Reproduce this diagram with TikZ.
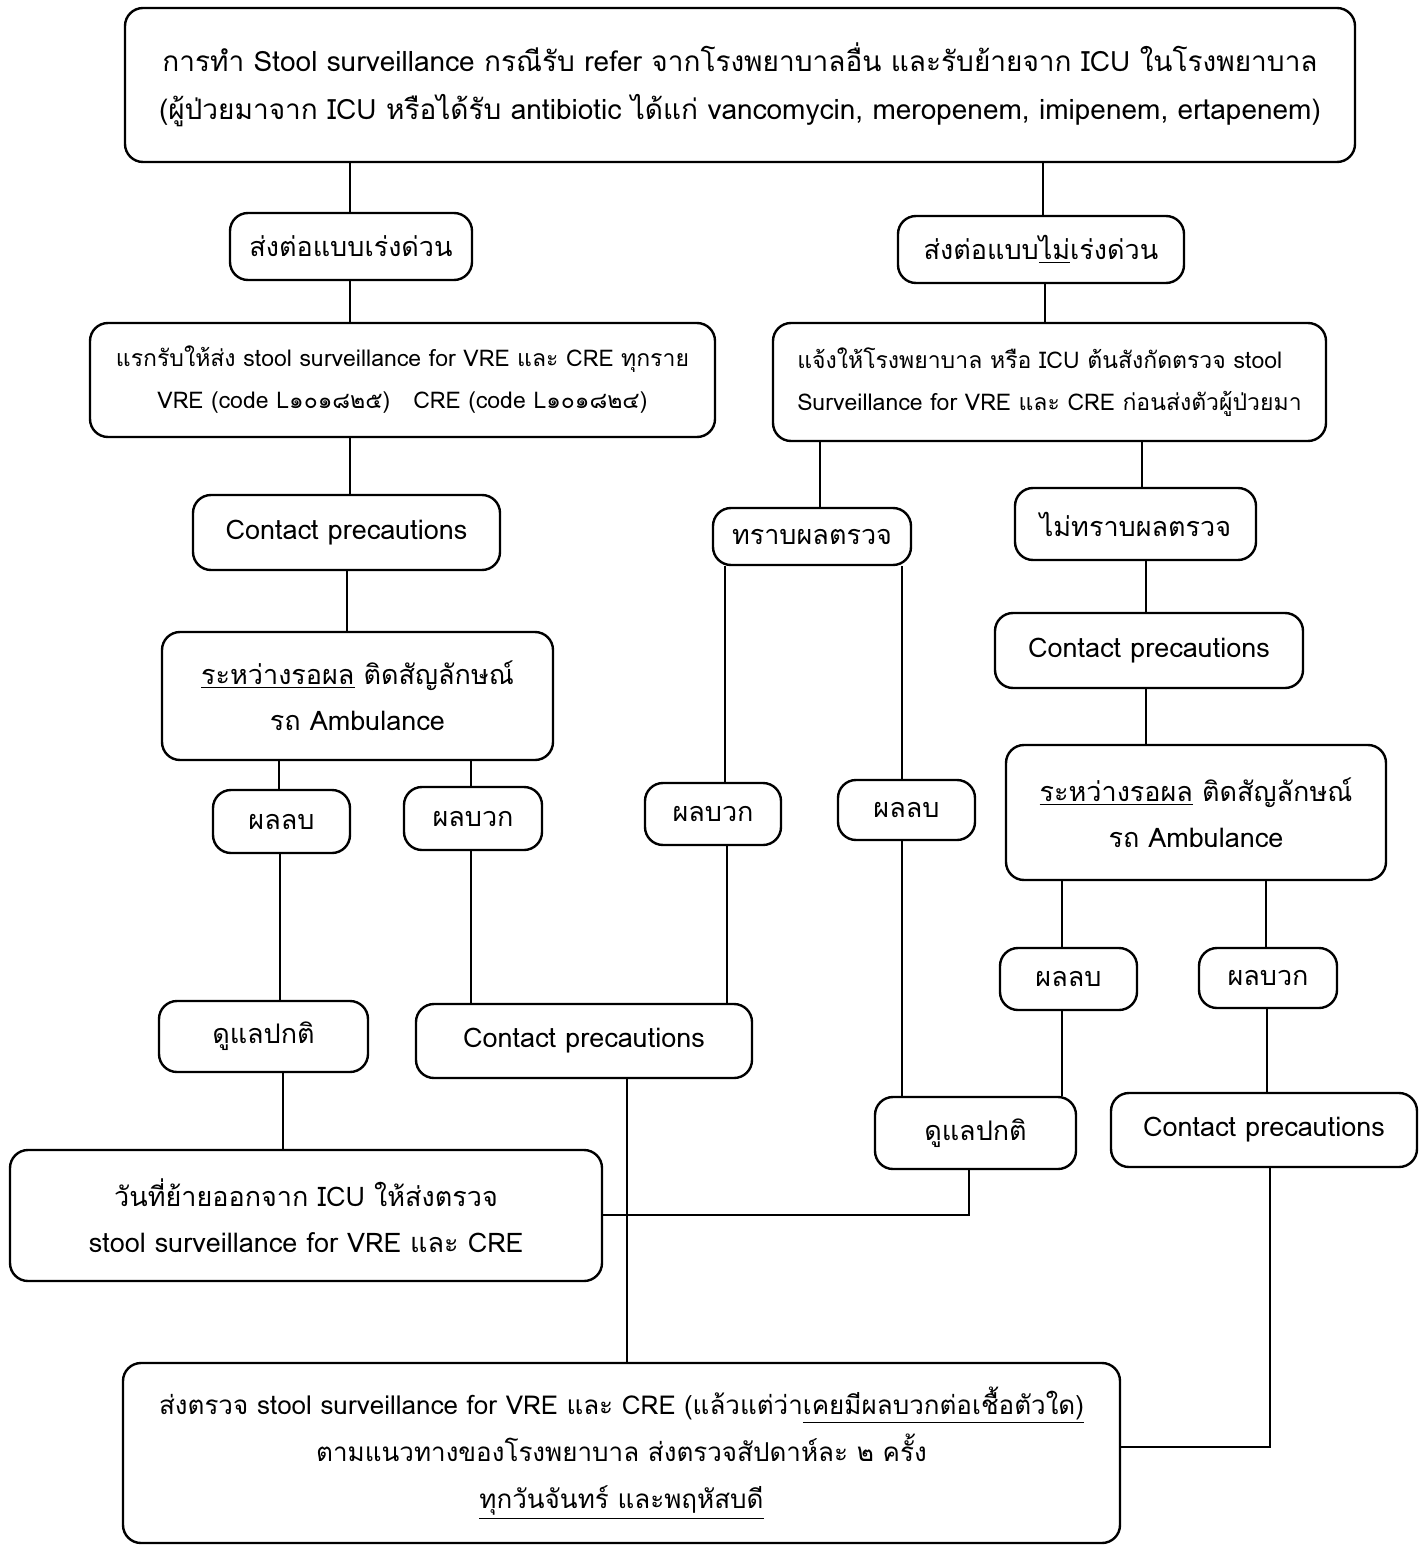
\documentclass[tikz,border=0pt]{standalone}
\usepackage{fontspec}
\setmainfont[Script=Thai]{Loma}
\begin{document}
\begin{tikzpicture}[x=0.5pt,y=-0.5pt,
  box/.style={draw, line width=1.2pt, rounded corners=9pt, inner sep=0pt, align=center, font=\fontsize{13.5}{23}\selectfont},
  small/.style={font=\fontsize{11.5}{21}\selectfont},
  wide/.style={font=\fontsize{14}{24}\selectfont},
  mid/.style={font=\fontsize{13}{23.5}\selectfont},
  conn/.style={line width=1pt}]
\useasboundingbox[fill=white] (0,0) rectangle (1427,1545);
\newcommand{\bx}[7][]{\node[box, #1, minimum width={(#5-#3)*0.5pt}, minimum height={(#6-#4)*0.5pt}] (#2) at ({(#3+#5)/2},{(#4+#6)/2}) {#7};}
\bx[wide]{top}{125}{8}{1355}{162}{การทำ Stool surveillance กรณีรับ refer จากโรงพยาบาลอื่น และรับย้ายจาก ICU ในโรงพยาบาล\\(ผู้ป่วยมาจาก ICU หรือได้รับ antibiotic ได้แก่ vancomycin, meropenem, imipenem, ertapenem)}
\bx{urg}{230}{213}{472}{280}{ส่งต่อแบบเร่งด่วน}
\bx{nurg}{898}{216}{1184}{283}{ส่งต่อแบบ\underline{ไม่}เร่งด่วน}
\bx[small]{first}{90}{323}{715}{437}{แรกรับให้ส่ง stool surveillance for VRE และ CRE ทุกราย\\VRE (code L๑๐๑๘๒๕)\quad CRE (code L๑๐๑๘๒๔)}
\bx[small,align=left]{notify}{773}{323}{1326}{441}{แจ้งให้โรงพยาบาล หรือ ICU ต้นสังกัดตรวจ stool\\Surveillance for VRE และ CRE ก่อนส่งตัวผู้ป่วยมา}
\bx{cpL}{193}{495}{500}{570}{Contact precautions}
\bx{known}{713}{508}{911}{565}{ทราบผลตรวจ}
\bx{unknown}{1015}{488}{1256}{560}{ไม่ทราบผลตรวจ}
\bx{cpR}{995}{613}{1303}{688}{Contact precautions}
\bx{waitL}{162}{632}{553}{760}{\underline{ระหว่างรอผล} ติดสัญลักษณ์\\รถ Ambulance}
\bx{waitR}{1006}{745}{1386}{880}{\underline{ระหว่างรอผล} ติดสัญลักษณ์\\รถ Ambulance}
\bx{negL}{213}{790}{350}{853}{ผลลบ}
\bx{posL}{404}{787}{542}{850}{ผลบวก}
\bx{posM}{645}{783}{781}{845}{ผลบวก}
\bx{negM}{838}{780}{975}{840}{ผลลบ}
\bx{careL}{159}{1001}{368}{1072}{ดูแลปกติ}
\bx{cpM}{416}{1004}{752}{1078}{Contact precautions}
\bx{negR}{1000}{948}{1137}{1010}{ผลลบ}
\bx{posR}{1199}{948}{1337}{1008}{ผลบวก}
\bx{careR}{875}{1097}{1076}{1169}{ดูแลปกติ}
\bx{cpRR}{1111}{1093}{1417}{1167}{Contact precautions}
\bx{icu}{10}{1150}{602}{1281}{วันที่ย้ายออกจาก ICU ให้ส่งตรวจ\\stool surveillance for VRE และ CRE}
\bx[mid]{bottom}{123}{1363}{1120}{1543}{ส่งตรวจ stool surveillance for VRE และ CRE (แล้วแต่ว่า\underline{เคยมีผลบวกต่อเชื้อตัวใด)}\\ตามแนวทางของโรงพยาบาล ส่งตรวจสัปดาห์ละ ๒ ครั้ง\\\underline{ทุกวันจันทร์ และพฤหัสบดี}}
\coordinate (jR) at (969,1215);
\coordinate (jB) at (1270,1447);
\begin{scope}[conn]
\draw (top.south -| 350,0) -- (urg.north -| 350,0);
\draw (top.south -| 1043,0) -- (nurg.north -| 1043,0);
\draw (urg.south -| 350,0) -- (first.north -| 350,0);
\draw (nurg.south -| 1045,0) -- (notify.north -| 1045,0);
\draw (first.south -| 350,0) -- (cpL.north -| 350,0);
\draw (cpL.south -| 347,0) -- (waitL.north -| 347,0);
\draw (notify.south -| 820,0) -- (known.north -| 820,0);
\draw (notify.south -| 1142,0) -- (unknown.north -| 1142,0);
\draw (unknown.south -| 1146,0) -- (cpR.north -| 1146,0);
\draw (cpR.south -| 1146,0) -- (waitR.north -| 1146,0);
\draw (waitL.south -| 279,0) -- (negL.north -| 279,0);
\draw (waitL.south -| 471,0) -- (posL.north -| 471,0);
\draw (known.south -| 725,0) -- (posM.north -| 725,0);
\draw (known.south -| 902,0) -- (negM.north -| 902,0);
\draw (waitR.south -| 1062,0) -- (negR.north -| 1062,0);
\draw (waitR.south -| 1266,0) -- (posR.north -| 1266,0);
\draw (negL.south -| 280,0) -- (careL.north -| 280,0);
\draw (posL.south -| 471,0) -- (cpM.north -| 471,0);
\draw (posM.south -| 727,0) -- (cpM.north -| 727,0);
\draw (negM.south -| 902,0) -- (careR.north -| 902,0);
\draw (negR.south -| 1062,0) -- (careR.north -| 1062,0);
\draw (posR.south -| 1267,0) -- (cpRR.north -| 1267,0);
\draw (careL.south -| 283,0) -- (icu.north -| 283,0);
\draw (careR.south -| jR) -- (jR) -- (icu.east |- jR);
\draw (cpM.south -| 627,0) -- (bottom.north -| 627,0);
\draw (cpRR.south -| jB) -- (jB) -- (bottom.east |- jB);
\end{scope}
\end{tikzpicture}
\end{document}
